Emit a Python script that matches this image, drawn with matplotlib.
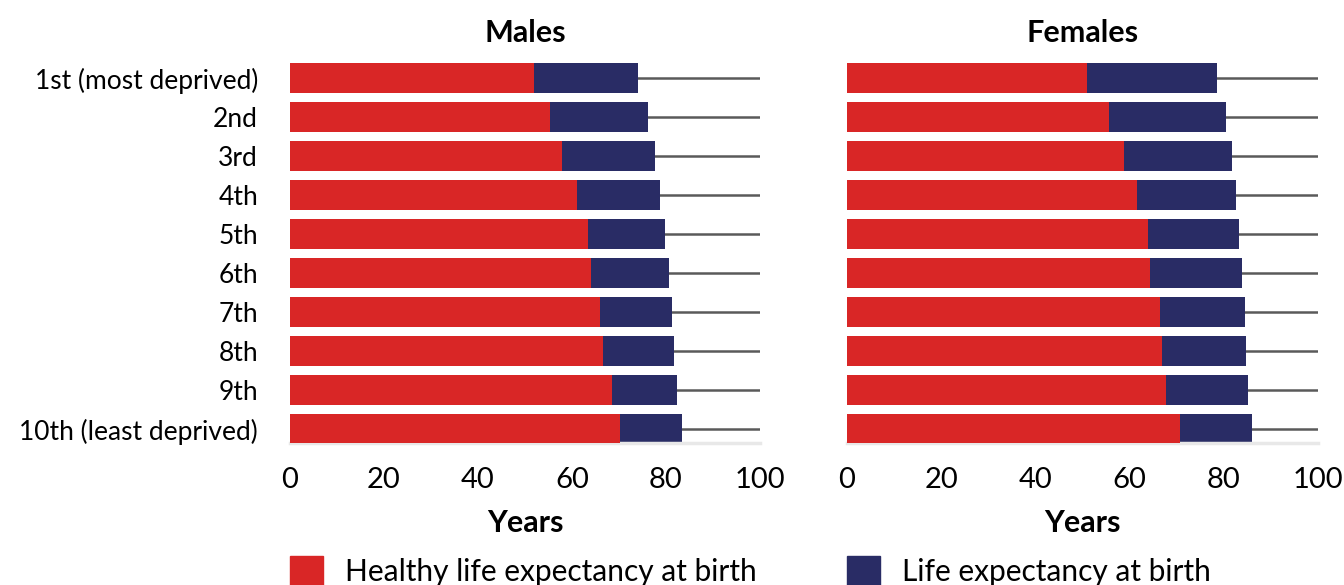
import matplotlib
matplotlib.use("Agg")
import matplotlib.pyplot as plt
from matplotlib.patches import Patch
import numpy as np

# deprivation deciles, top to bottom
deciles = ["1st (most deprived)", "2nd", "3rd", "4th", "5th",
           "6th", "7th", "8th", "9th", "10th (least deprived)"]

# males (years)
male_hle = [51.9, 55.3, 57.9, 61.1, 63.4, 64.0, 66.0, 66.6, 68.5, 70.2]
male_le = [74.0, 76.2, 77.7, 78.7, 79.8, 80.6, 81.3, 81.7, 82.3, 83.4]

# females (years)
female_hle = [51.0, 55.6, 58.8, 61.6, 63.9, 64.3, 66.5, 66.9, 67.7, 70.7]
female_le = [78.6, 80.5, 81.7, 82.6, 83.2, 83.9, 84.5, 84.7, 85.1, 86.0]

xticks = [0, 20, 40, 60, 80, 100]

RED = "#d92626"
NAVY = "#292c65"
FONT = "Lato"

plt.rcParams['font.family'] = [FONT, 'DejaVu Sans']

fig = plt.figure(figsize=(13.44, 5.85), dpi=100)
ax_m = fig.add_axes([290 / 1344, 142 / 585, 470 / 1344, 384.5 / 585])
ax_f = fig.add_axes([847 / 1344, 142 / 585, 471 / 1344, 384.5 / 585])

y = np.arange(len(deciles))

for ax, hle, le, title in [(ax_m, male_hle, male_le, "Males"),
                           (ax_f, female_hle, female_le, "Females")]:
    ax.barh(y, le, height=0.77, color=NAVY, zorder=2)
    ax.barh(y, hle, height=0.77, color=RED, zorder=3)
    ax.set_xlim(0, 100)
    ax.set_ylim(9.36, -0.5)
    ax.set_yticks(y)
    ax.set_xticks(xticks)
    ax.set_xticklabels([str(t) for t in xticks], fontsize=21)
    ax.tick_params(axis='x', length=0, pad=17.5)
    ax.tick_params(axis='y', length=0, pad=23)
    ax.grid(axis='y', color="#5a5a5a", linewidth=1.8, zorder=1)
    ax.set_axisbelow(True)
    for s in ["top", "right", "left"]:
        ax.spines[s].set_visible(False)
    ax.spines["bottom"].set_color("#e8e8e8")
    ax.spines["bottom"].set_linewidth(2.5)
    ax.set_title(title, fontsize=22, fontweight="bold", pad=12)
    ax.set_xlabel("Years", fontsize=22, fontweight="bold", labelpad=11)

ax_m.set_yticklabels(deciles, fontsize=19)
ax_f.set_yticklabels([])

leg_kw = dict(loc="upper left", bbox_to_anchor=(0, -0.295), frameon=False,
              borderpad=0, borderaxespad=0, handlelength=1.1, handleheight=1.1,
              handletextpad=0.75, fontsize=21.5)
ax_m.legend(handles=[Patch(color=RED, label="Healthy life expectancy at birth")], **leg_kw)
ax_f.legend(handles=[Patch(color=NAVY, label="Life expectancy at birth")], **leg_kw)

fig.savefig("out.png", dpi=100)
